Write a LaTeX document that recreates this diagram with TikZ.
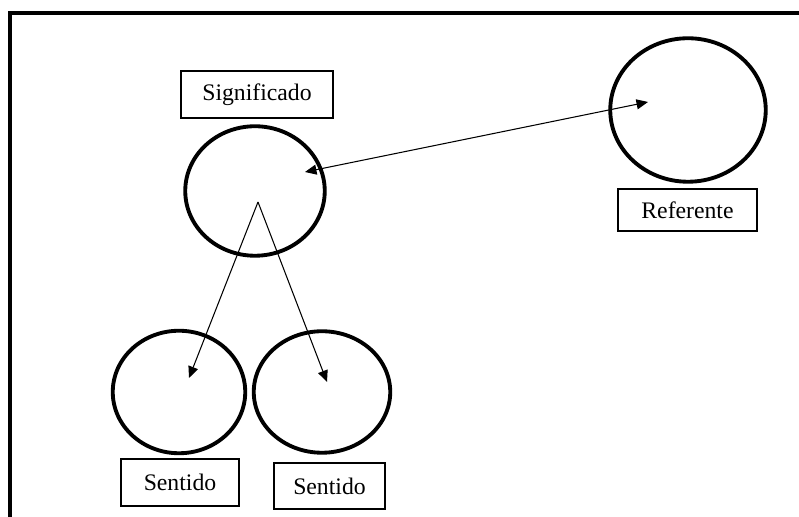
\documentclass[tikz,border=0pt]{standalone}
\usepackage{fontspec}
\setmainfont{Liberation Serif}
\usetikzlibrary{shapes.geometric,arrows.meta}
\tikzset{
  circ/.style={draw,ellipse,line width=2.2pt,inner sep=0pt},
  lbl/.style={draw,line width=0.7pt,inner sep=0pt,font=\fontsize{13.5}{16}\selectfont},
  conn/.style={line width=0.6pt}
}
\begin{document}
\begin{tikzpicture}[>={Triangle[length=2.3mm,width=2mm]},x=1cm,y=1cm]
    \useasboundingbox (0,0) rectangle (15.98,10.34);
    \clip (0,0) rectangle (15.98,10.34);
    % frame, only left and top edges show
    \draw[line width=2.6pt] (0.2,-0.5) |- (16.5,10.08);
    % circles
    \node[circ,minimum width=2.79cm,minimum height=2.59cm] (signif) at (5.10,6.52) {};
    \node[circ,minimum width=3.11cm,minimum height=2.87cm] (refer) at (13.76,8.14) {};
    \node[circ,minimum width=2.65cm,minimum height=2.45cm] (sentA) at (3.58,2.50) {};
    \node[circ,minimum width=2.73cm,minimum height=2.43cm] (sentB) at (6.44,2.50) {};
    % labels
    \node[lbl,minimum width=3.04cm,minimum height=0.94cm] (signifbox) at (5.14,8.45) {Significado};
    \node[lbl,minimum width=2.78cm,minimum height=0.84cm] (referbox) at (13.75,6.14) {Referente};
    \node[lbl,minimum width=2.36cm,minimum height=0.94cm] (sentAbox) at (3.60,0.69) {Sentido};
    \node[lbl,minimum width=2.22cm,minimum height=0.92cm] (sentBbox) at (6.59,0.62) {Sentido};
    % arrow ends
    \coordinate (signifin) at (6.10,6.90);
    \coordinate (referin) at (12.96,8.30);
    \coordinate (apex) at (5.16,6.30);
    \coordinate (sentAin) at (3.78,2.78);
    \coordinate (sentBin) at (6.54,2.70);
    \draw[conn,<->] (signifin) -- (referin);
    \draw[conn,->] (apex) -- (sentAin);
    \draw[conn,->] (apex) -- (sentBin);
\end{tikzpicture}
\end{document}
